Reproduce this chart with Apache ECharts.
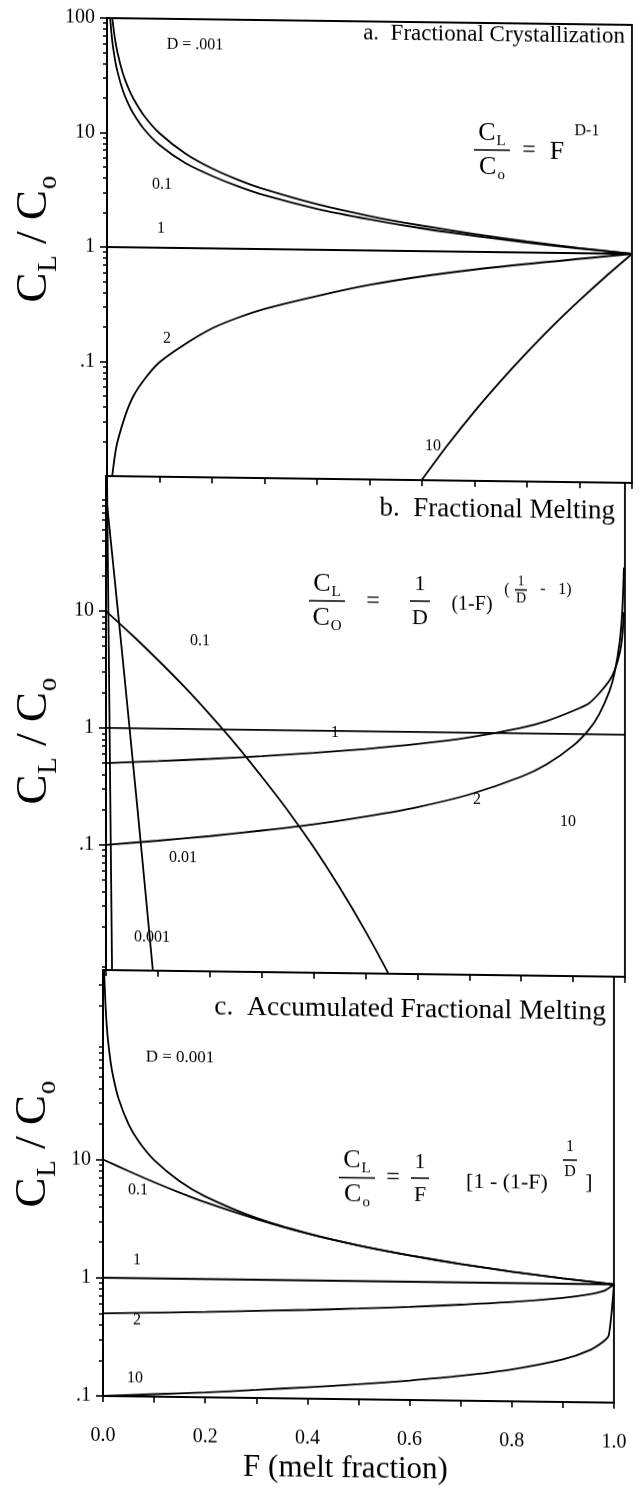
<!DOCTYPE html>
<html>
<head>
<meta charset="utf-8">
<script src="https://cdn.jsdelivr.net/npm/echarts@6/dist/echarts.min.js"></script>
<style>
  html, body { margin: 0; padding: 0; background: #fff; overflow: hidden; }
  /* the printed figure sits slightly tilted on the page */
  #chart { width: 640px; height: 1488px; transform-origin: 104px 0; transform: skewY(0.75deg); }
</style>
</head>
<body>
<div id="chart"></div>
<script>
// ---------- a. Fractional crystallization: C_L/C_0 vs F (melt remaining) ----------
const crystF_D0001 = [0.01, 0.015, 0.02, 0.03, 0.04, 0.05, 0.07, 0.1, 0.15, 0.2, 0.25, 0.3, 0.4, 0.5, 0.6, 0.7, 0.8, 0.9, 1.0];
const crystC_D0001 = [100, 66.7, 50, 33.3, 25, 20, 14.3, 10, 6.67, 5, 4, 3.33, 2.5, 2, 1.67, 1.43, 1.25, 1.11, 1];
const crystF_D01 = [0.006, 0.01, 0.015, 0.02, 0.03, 0.04, 0.05, 0.07, 0.1, 0.15, 0.2, 0.25, 0.3, 0.4, 0.5, 0.6, 0.7, 0.8, 0.9, 1.0];
const crystC_D01 = [100, 63, 44, 34, 23.5, 18.1, 14.8, 10.9, 7.9, 5.5, 4.3, 3.5, 2.95, 2.28, 1.87, 1.58, 1.38, 1.22, 1.1, 1];
const crystF_D1 = [0, 1];
const crystC_D1 = [1, 1];
const crystF_D2 = [0.01, 0.02, 0.05, 0.1, 0.2, 0.3, 0.5, 0.7, 1.0];
const crystC_D2 = [0.01, 0.02, 0.05, 0.1, 0.2, 0.3, 0.5, 0.7, 1.0];
const crystF_D10 = [0.6, 0.65, 0.7, 0.75, 0.8, 0.85, 0.9, 0.95, 1.0];
const crystC_D10 = [0.0101, 0.0207, 0.0404, 0.075, 0.134, 0.232, 0.387, 0.63, 1];

// ---------- b. Fractional melting ----------
const meltF_D0001 = [0, 0.002, 0.004, 0.006, 0.008, 0.01, 0.012];
const meltC_D0001 = [1000, 135, 18.3, 2.5, 0.33, 0.045, 0.006];
const meltF_D001 = [0, 0.01, 0.02, 0.03, 0.04, 0.05, 0.06, 0.07, 0.08, 0.09, 0.1];
const meltC_D001 = [100, 37, 13.5, 4.9, 1.76, 0.62, 0.22, 0.076, 0.026, 0.0088, 0.003];
const meltF_D01 = [0, 0.05, 0.1, 0.15, 0.2, 0.25, 0.3, 0.35, 0.4, 0.45, 0.5, 0.55, 0.6];
const meltC_D01 = [10, 6.3, 3.87, 2.32, 1.34, 0.75, 0.4, 0.207, 0.101, 0.046, 0.0195, 0.0076, 0.0026];
const meltF_D1 = [0, 1];
const meltC_D1 = [1, 1];
const meltF_D2 = [0, 0.1, 0.2, 0.3, 0.4, 0.5, 0.6, 0.7, 0.8, 0.85, 0.9, 0.93, 0.95, 0.97, 0.98, 0.99, 0.995, 0.998];
const meltC_D2 = [0.5, 0.527, 0.559, 0.598, 0.645, 0.707, 0.79, 0.913, 1.118, 1.29, 1.58, 1.83, 2.24, 2.89, 3.54, 5, 7.07, 11.2];
const meltF_D10 = [0, 0.1, 0.2, 0.3, 0.4, 0.5, 0.6, 0.7, 0.8, 0.85, 0.9, 0.93, 0.95, 0.97, 0.98, 0.99, 0.995, 0.998];
const meltC_D10 = [0.1, 0.11, 0.122, 0.138, 0.158, 0.187, 0.228, 0.296, 0.426, 0.551, 0.794, 1.09, 1.48, 2.35, 3.38, 6.31, 11.8, 26.9];

// ---------- c. Accumulated fractional melting ----------
const accF_D0001 = [0.002, 0.003, 0.005, 0.007, 0.01, 0.015, 0.02, 0.03, 0.05, 0.07, 0.1, 0.15, 0.2, 0.3, 0.4, 0.5, 0.6, 0.7, 0.8, 0.9, 1.0];
const accC_D0001 = [432, 317, 199, 142, 100, 66.7, 50, 33.3, 20, 14.3, 10, 6.67, 5, 3.33, 2.5, 2, 1.67, 1.43, 1.25, 1.11, 1];
const accF_D01 = [0, 0.05, 0.1, 0.15, 0.2, 0.3, 0.4, 0.5, 0.6, 0.7, 0.8, 0.9, 1.0];
const accC_D01 = [10, 8.03, 6.51, 5.35, 4.46, 3.26, 2.49, 2.0, 1.67, 1.43, 1.25, 1.11, 1];
const accF_D1 = [0, 1];
const accC_D1 = [1, 1];
const accF_D2 = [0, 0.2, 0.4, 0.5, 0.6, 0.7, 0.8, 0.9, 0.95, 0.98, 1.0];
const accC_D2 = [0.5, 0.528, 0.563, 0.586, 0.613, 0.648, 0.691, 0.76, 0.817, 0.878, 1];
const accF_D10 = [0, 0.1, 0.2, 0.3, 0.4, 0.5, 0.6, 0.7, 0.8, 0.9, 0.95, 0.98, 0.99, 1.0];
const accC_D10 = [0.1, 0.105, 0.11, 0.117, 0.125, 0.134, 0.146, 0.162, 0.186, 0.229, 0.273, 0.33, 0.373, 1];

// ---------- axis ticks ----------
const xTickValues = [0, 0.2, 0.4, 0.6, 0.8, 1.0];
const xTickLabels = ['0.0', '0.2', '0.4', '0.6', '0.8', '1.0'];
const yTicksA = [100, 10, 1, 0.1];
const yLabelsA = ['100', '10', '1', '.1'];
const yTicksB = [10, 1, 0.1];
const yLabelsB = ['10', '1', '.1'];
const yTicksC = [10, 1, 0.1];
const yLabelsC = ['10', '1', '.1'];
const yRanges = [[0.01, 100], [0.0085, 143], [0.1, 400]];
const minorLogTicks = [];
[0.001, 0.01, 0.1, 1, 10, 100].forEach(d => { for (let k = 2; k <= 9; k++) minorLogTicks.push(+(d * k).toPrecision(3)); });

const SERIF = '"Liberation Serif", "DejaVu Serif", serif';
const INK = '#000';

const chart = echarts.init(document.getElementById('chart'), null, { renderer: 'canvas' });

const grids = [
  { left: 107, right: 8, top: 18, height: 458 },
  { left: 106, right: 15, top: 476, height: 494 },
  { left: 103, right: 26, top: 970, height: 426 }
].map(g => Object.assign(g, { show: true, borderColor: INK, borderWidth: 1.8, backgroundColor: 'transparent' }));

function zip(fs, cs) { return fs.map((f, i) => [f, cs[i]]); }

function labelFor(ticks, labels) {
  return v => {
    const i = ticks.findIndex(t => Math.abs(Math.log10(t) - Math.log10(v)) < 1e-6);
    return i >= 0 ? labels[i] : '';
  };
}

const xAxes = [0, 1, 2].map(i => ({
  gridIndex: i, type: 'value', min: 0, max: 1, interval: 0.1,
  axisLine: { show: true, onZero: false, lineStyle: { color: INK, width: 2 } },
  axisTick: { show: true, inside: false, length: 6, lineStyle: { color: INK, width: 1.6 } },
  axisLabel: {
    show: i === 2, customValues: xTickValues, margin: 30,
    fontFamily: SERIF, fontSize: 20, color: INK,
    formatter: v => { const k = xTickValues.findIndex(t => Math.abs(t - v) < 1e-6); return k >= 0 ? xTickLabels[k] : ''; }
  },
  splitLine: { show: false },
  name: i === 2 ? 'F (melt fraction)' : '',
  nameLocation: 'middle', nameGap: 54,
  nameTextStyle: { fontFamily: SERIF, fontSize: 31, color: INK, padding: [0, 26, 0, 0] }
}));

const tickSets = [[yTicksA, yLabelsA], [yTicksB, yLabelsB], [yTicksC, yLabelsC]];
const yAxes = [];
[0, 1, 2].forEach(i => {
  const [tv, tl] = tickSets[i];
  yAxes.push({
    gridIndex: i, type: 'log', logBase: 10, min: yRanges[i][0], max: yRanges[i][1],
    axisLine: { show: true, lineStyle: { color: INK, width: 2 } },
    axisTick: { show: true, inside: false, length: 7, customValues: tv, lineStyle: { color: INK, width: 1.6 } },
    axisLabel: { customValues: tv, formatter: labelFor(tv, tl), fontFamily: SERIF, fontSize: 20, color: INK, margin: 12 },
    splitLine: { show: false }, minorSplitLine: { show: false }
  });
  // log-spaced minor ticks (2..9 within each decade)
  yAxes.push({
    gridIndex: i, type: 'log', logBase: 10, min: yRanges[i][0], max: yRanges[i][1], position: 'left',
    axisLine: { show: false },
    axisTick: { show: true, inside: false, length: 4,
      customValues: minorLogTicks.filter(v => v > yRanges[i][0] && v < yRanges[i][1]),
      lineStyle: { color: INK, width: 1.5 } },
    axisLabel: { show: false }, splitLine: { show: false }
  });
});

const curveStyle = { color: INK, width: 1.8 };
function curve(gi, fs, cs) {
  return {
    type: 'line', xAxisIndex: gi, yAxisIndex: gi * 2, data: zip(fs, cs),
    showSymbol: false, smooth: 0.25, clip: true, silent: true,
    lineStyle: curveStyle, animation: false
  };
}

const series = [
  curve(0, crystF_D0001, crystC_D0001), curve(0, crystF_D01, crystC_D01), curve(0, crystF_D1, crystC_D1),
  curve(0, crystF_D2, crystC_D2), curve(0, crystF_D10, crystC_D10),
  curve(1, meltF_D0001, meltC_D0001), curve(1, meltF_D001, meltC_D001), curve(1, meltF_D01, meltC_D01),
  curve(1, meltF_D1, meltC_D1), curve(1, meltF_D2, meltC_D2), curve(1, meltF_D10, meltC_D10),
  curve(2, accF_D0001, accC_D0001), curve(2, accF_D01, accC_D01), curve(2, accF_D1, accC_D1),
  curve(2, accF_D2, accC_D2), curve(2, accF_D10, accC_D10)
];

// ---------- annotations ----------
const rich = {
  c: { fontFamily: SERIF, fontSize: 26, color: INK },
  s: { fontFamily: SERIF, fontSize: 15, color: INK, padding: [16, 0, 0, 1] },
  C: { fontFamily: SERIF, fontSize: 45, color: INK },
  S: { fontFamily: SERIF, fontSize: 27, color: INK, padding: [29, 0, 0, 1] }
};

function text(x, y, str, size, opt) {
  opt = opt || {};
  const el = {
    type: 'text', x: x, y: y, silent: true,
    style: { text: str, font: size + 'px ' + SERIF, fill: INK, align: opt.align || 'center', verticalAlign: 'middle', rich: rich }
  };
  if (opt.rotation) el.rotation = opt.rotation;
  return el;
}
function bar(x1, x2, y) {
  return { type: 'line', silent: true, shape: { x1: x1, y1: y, x2: x2, y2: y }, style: { stroke: INK, lineWidth: 1.5 } };
}
// stacked C_L over C_o fraction centred at (cx, cy)
function clco(cx, cy, den) {
  return [
    text(cx, cy - 17, '{c|C}{s|L}', 26),
    bar(cx - 18, cx + 18, cy),
    text(cx, cy + 17, '{c|C}{s|' + (den || 'o') + '}', 26)
  ];
}

const YTITLE = '{C|C}{S|L}{C| / C}{S|o}';
const graphics = [
  // y-axis titles
  text(34, 240, YTITLE, 45, { rotation: Math.PI / 2 }),
  text(34, 742, YTITLE, 45, { rotation: Math.PI / 2 }),
  text(33, 1145, YTITLE, 45, { rotation: Math.PI / 2 }),

  // panel titles
  text(625, 30, 'a.  Fractional Crystallization', 23, { align: 'right' }),
  text(615, 505, 'b.  Fractional Melting', 27, { align: 'right' }),
  text(606, 1006, 'c.  Accumulated Fractional Melting', 27.5, { align: 'right' }),

  // equation a: C_L/C_o = F^(D-1)
  ...clco(492, 145),
  text(529, 144.5, '=', 24),
  text(557, 146, 'F', 26),
  text(587, 125, 'D-1', 16),

  // equation b: C_L/C_O = 1/D (1-F)^(1/D - 1)
  ...clco(327, 598, 'O'),
  text(373, 597.5, '=', 24),
  text(420, 580, '1', 22), bar(410, 430, 597), text(420, 614, 'D', 22),
  text(472, 600, '(1-F)', 20),
  text(507, 585, '(', 16), text(521, 576.5, '1', 14), bar(515, 527, 584.5), text(521, 593.5, 'D', 14),
  text(543, 584, '-', 16), text(565, 584, '1)', 16),

  // equation c: C_L/C_o = 1/F [1 - (1-F)^(1/D)]
  ...clco(357, 1174.5),
  text(393, 1174, '=', 24),
  text(420, 1158, '1', 22), bar(411, 429, 1174), text(420, 1191, 'F', 22),
  text(507, 1177.5, '[1 - (1-F)', 22),
  text(570, 1141, '1', 16), bar(563, 577, 1154), text(570, 1166, 'D', 16),
  text(589, 1176.5, ']', 22),

  // curve labels, panel a
  text(195, 44, 'D = .001', 16),
  text(162, 184, '0.1', 16),
  text(161, 228, '1', 16),
  text(167, 338, '2', 16),
  text(433, 442, '10', 16),

  // curve labels, panel b
  text(200, 640, '0.1', 16),
  text(335, 730, '1', 16),
  text(477, 795, '2', 16),
  text(568, 816, '10', 16),
  text(183, 857, '0.01', 16),
  text(152, 937, '0.001', 16),

  // curve labels, panel c
  text(180, 1057, 'D = 0.001', 17),
  text(138, 1189.5, '0.1', 16),
  text(137, 1259.5, '1', 16),
  text(137, 1319.5, '2', 16),
  text(135, 1377.5, '10', 16)
];

chart.setOption({
  animation: false,
  backgroundColor: '#fff',
  grid: grids,
  xAxis: xAxes,
  yAxis: yAxes,
  series: series,
  graphic: graphics
});
</script>
</body>
</html>
